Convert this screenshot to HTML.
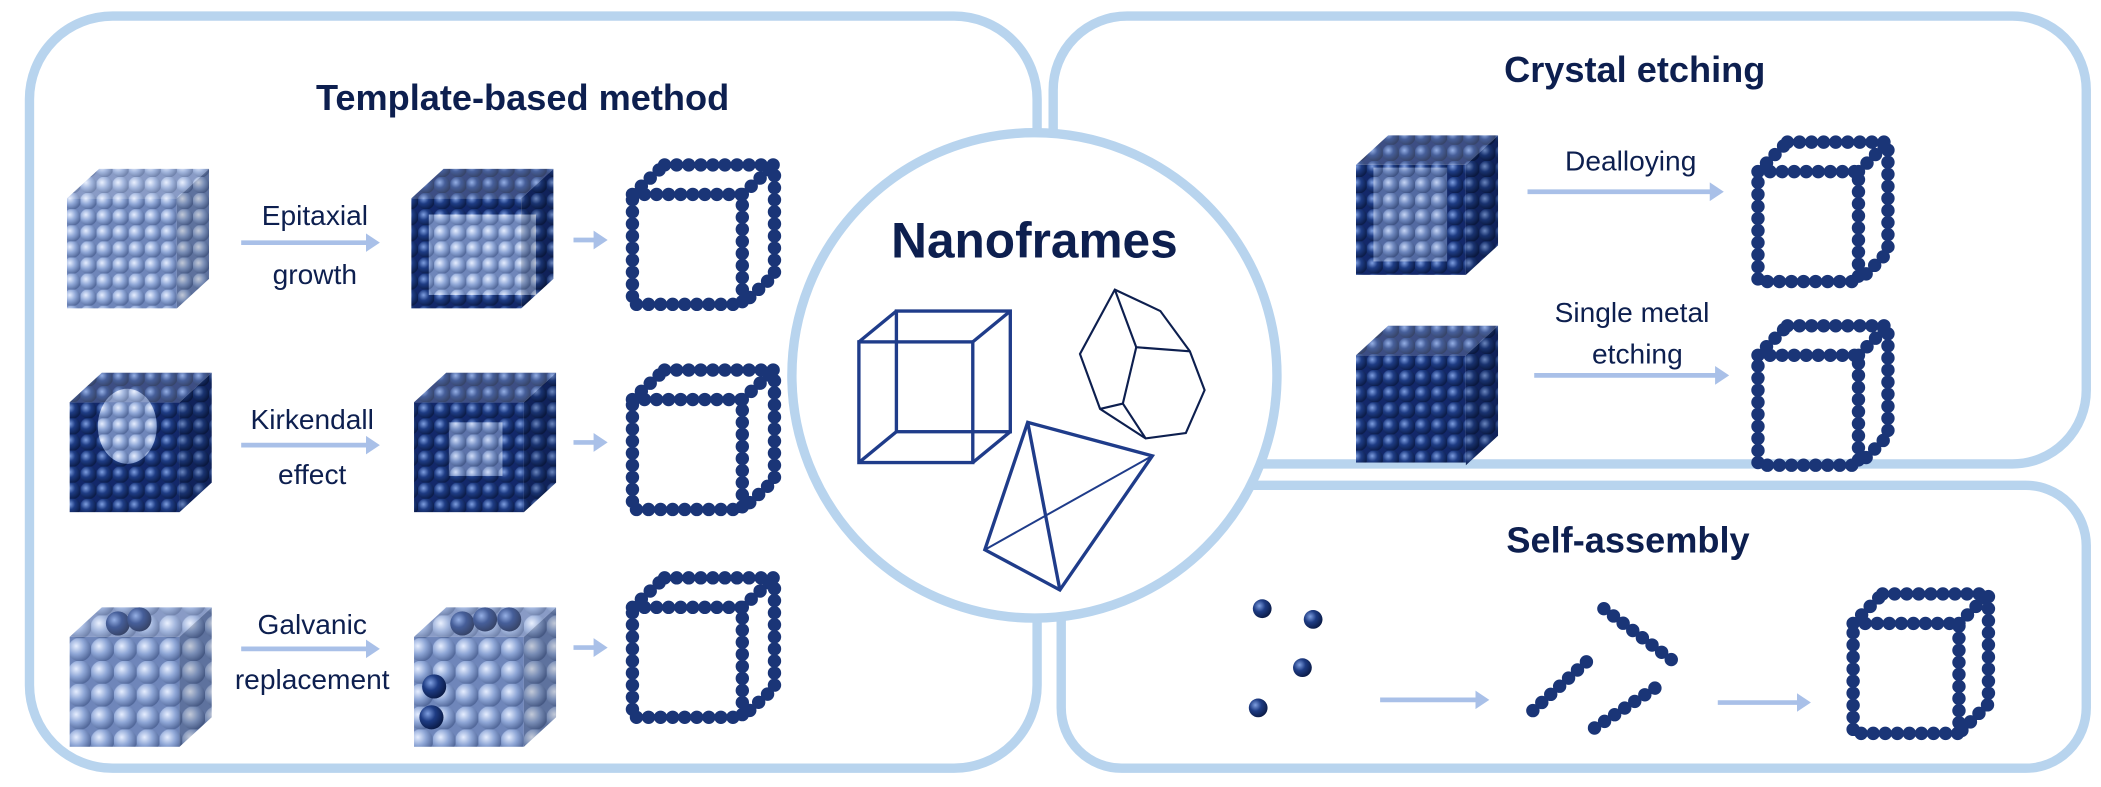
<!DOCTYPE html>
<html><head><meta charset="utf-8"><style>
html,body{margin:0;padding:0;background:#fff;width:2101px;height:787px;overflow:hidden}
svg{display:block}
text{font-family:"Liberation Sans",sans-serif;fill:#0d1f4f}
.t{font-weight:bold;font-size:27px}
.l{font-size:21px}
</style></head><body>
<svg width="2101" height="787" viewBox="0 0 1568 587" preserveAspectRatio="none">
<defs>
<radialGradient id="gl" cx="0.35" cy="0.35" r="0.7"><stop offset="0" stop-color="#e6eeff"/><stop offset="0.5" stop-color="#8ea6d6"/><stop offset="1" stop-color="#4e6496"/></radialGradient>
<radialGradient id="gd" cx="0.35" cy="0.35" r="0.7"><stop offset="0" stop-color="#7f9fe0"/><stop offset="0.45" stop-color="#1e3c84"/><stop offset="1" stop-color="#0a1a45"/></radialGradient>
<pattern id="pl" width="12" height="12" patternUnits="userSpaceOnUse"><rect width="12" height="12" fill="#6f86ba"/><circle cx="6" cy="6" r="6.3" fill="url(#gl)"/></pattern>
<pattern id="pd" width="12" height="12" patternUnits="userSpaceOnUse"><rect width="12" height="12" fill="#13286a"/><circle cx="6" cy="6" r="6.3" fill="url(#gd)"/></pattern>
<pattern id="pg" width="17" height="17" patternUnits="userSpaceOnUse"><rect width="17" height="17" fill="#6f86ba"/><circle cx="8.5" cy="8.5" r="8.8" fill="url(#gl)"/></pattern>
<marker id="ah" markerWidth="4" markerHeight="4" refX="2" refY="2" orient="auto" markerUnits="strokeWidth"><path d="M0,0 L3,2 L0,4 Z" fill="#a9c0e8"/></marker>
</defs>

<g fill="none" stroke="#b8d4ee" stroke-width="7">
<rect x="22" y="12" width="752" height="561" rx="62"/>
<rect x="786" y="12" width="771" height="334" rx="55"/>
<rect x="792" y="362" width="765" height="211" rx="45"/>
</g>
<circle cx="772" cy="280" r="181" fill="#fff" stroke="#b8d4ee" stroke-width="7"/>

<text class="t" x="390" y="82" text-anchor="middle">Template-based method</text>
<text class="t" x="1220" y="61" text-anchor="middle">Crystal etching</text>
<text class="t" x="1215" y="412" text-anchor="middle">Self-assembly</text>
<text x="772" y="192" text-anchor="middle" style="font-weight:bold;font-size:37px">Nanoframes</text>

<g text-anchor="middle">
<text class="l" x="235" y="168">Epitaxial</text><text class="l" x="235" y="212">growth</text>
<text class="l" x="233" y="320">Kirkendall</text><text class="l" x="233" y="361">effect</text>
<text class="l" x="233" y="473">Galvanic</text><text class="l" x="233" y="514">replacement</text>
<text class="l" x="1217" y="127">Dealloying</text>
<text class="l" x="1218" y="240">Single metal</text><text class="l" x="1222" y="271">etching</text>
</g>

<g stroke="#a9c0e8" stroke-width="3.5" marker-end="url(#ah)" fill="none">
<line x1="180" y1="181" x2="280" y2="181"/>
<line x1="180" y1="332" x2="280" y2="332"/>
<line x1="180" y1="484" x2="280" y2="484"/>
<line x1="428" y1="179" x2="450" y2="179"/>
<line x1="428" y1="330" x2="450" y2="330"/>
<line x1="428" y1="483" x2="450" y2="483"/>
<line x1="1140" y1="143" x2="1283" y2="143"/>
<line x1="1145" y1="280" x2="1287" y2="280"/>
<line x1="1030" y1="522" x2="1108" y2="522"/>
<line x1="1282" y1="524" x2="1348" y2="524"/>
</g>

<g stroke="none">
<polygon points="50,148 74,126 156,126 132,148" fill="url(#pl)"/>
<polygon points="132,148 156,126 156,208 132,230" fill="url(#pl)"/>
<rect x="50" y="148" width="82" height="82" fill="url(#pl)"/>
<polygon points="307,148 331,126 413,126 389,148" fill="url(#pd)"/>
<polygon points="389,148 413,126 413,208 389,230" fill="url(#pd)"/>
<rect x="307" y="148" width="82" height="82" fill="url(#pd)"/>
<rect x="320" y="160" width="80" height="60" fill="url(#pl)"/>
<polygon points="52,300 76,278 158,278 134,300" fill="url(#pd)"/>
<polygon points="134,300 158,278 158,360 134,382" fill="url(#pd)"/>
<rect x="52" y="300" width="82" height="82" fill="url(#pd)"/>
<ellipse cx="95" cy="318" rx="22" ry="28" fill="url(#pl)"/>
<polygon points="309,300 333,278 415,278 391,300" fill="url(#pd)"/>
<polygon points="391,300 415,278 415,360 391,382" fill="url(#pd)"/>
<rect x="309" y="300" width="82" height="82" fill="url(#pd)"/>
<rect x="335" y="315" width="40" height="40" fill="url(#pl)" opacity="0.8"/>
<polygon points="52,475 76,453 158,453 134,475" fill="url(#pg)"/>
<polygon points="134,475 158,453 158,535 134,557" fill="url(#pg)"/>
<rect x="52" y="475" width="82" height="82" fill="url(#pg)"/>
<circle cx="88" cy="465" r="9" fill="url(#gd)"/><circle cx="104" cy="462" r="9" fill="url(#gd)"/>
<polygon points="309,475 333,453 415,453 391,475" fill="url(#pg)"/>
<polygon points="391,475 415,453 415,535 391,557" fill="url(#pg)"/>
<rect x="309" y="475" width="82" height="82" fill="url(#pg)"/>
<circle cx="345" cy="465" r="9" fill="url(#gd)"/><circle cx="362" cy="462" r="9" fill="url(#gd)"/><circle cx="380" cy="462" r="9" fill="url(#gd)"/>
<circle cx="324" cy="512" r="9" fill="url(#gd)"/><circle cx="322" cy="535" r="9" fill="url(#gd)"/>
<polygon points="1012,123 1036,101 1118,101 1094,123" fill="url(#pd)"/>
<polygon points="1094,123 1118,101 1118,183 1094,205" fill="url(#pd)"/>
<rect x="1012" y="123" width="82" height="82" fill="url(#pd)"/>
<rect x="1025" y="125" width="55" height="70" fill="url(#pl)" opacity="0.7"/>
<polygon points="1012,265 1036,243 1118,243 1094,265" fill="url(#pd)"/>
<polygon points="1094,265 1118,243 1118,325 1094,347" fill="url(#pd)"/>
<rect x="1012" y="265" width="82" height="80" fill="url(#pd)"/>
<!-- face shading -->
<g fill="#fff" opacity="0.18">
<polygon points="50,148 74,126 156,126 132,148"/><polygon points="307,148 331,126 413,126 389,148"/>
<polygon points="52,300 76,278 158,278 134,300"/><polygon points="309,300 333,278 415,278 391,300"/>
<polygon points="52,475 76,453 158,453 134,475"/><polygon points="309,475 333,453 415,453 391,475"/>
<polygon points="1012,123 1036,101 1118,101 1094,123"/><polygon points="1012,265 1036,243 1118,243 1094,265"/>
</g>
<g fill="#000" opacity="0.15">
<polygon points="132,148 156,126 156,208 132,230"/><polygon points="389,148 413,126 413,208 389,230"/>
<polygon points="134,300 158,278 158,360 134,382"/><polygon points="391,300 415,278 415,360 391,382"/>
<polygon points="134,475 158,453 158,535 134,557"/><polygon points="391,475 415,453 415,535 391,557"/>
<polygon points="1094,123 1118,101 1118,183 1094,205"/><polygon points="1094,265 1118,243 1118,325 1094,347"/>
</g>
</g>

<g fill="none" stroke="#1a3577" stroke-width="10" stroke-linecap="round" stroke-dasharray="0 9">
<path d="M472,145 L554,145 L554,227 L472,227 Z M496,123 L578,123 L578,205 L554,227 M472,145 L496,123 M554,145 L578,123"/>
<path d="M472,298 L554,298 L554,380 L472,380 Z M496,276 L578,276 L578,358 L554,380 M472,298 L496,276 M554,298 L578,276"/>
<path d="M472,453 L554,453 L554,535 L472,535 Z M496,431 L578,431 L578,513 L554,535 M472,453 L496,431 M554,453 L578,431"/>
<path d="M1312,128 L1387,128 L1387,210 L1312,210 Z M1334,106 L1409,106 L1409,188 L1387,210 M1312,128 L1334,106 M1387,128 L1409,106"/>
<path d="M1312,265 L1387,265 L1387,347 L1312,347 Z M1334,243 L1409,243 L1409,325 L1387,347 M1312,265 L1334,243 M1387,265 L1409,243"/>
<path d="M1383,465 L1462,465 L1462,547 L1383,547 Z M1405,443 L1484,443 L1484,525 L1462,547 M1383,465 L1405,443 M1462,465 L1484,443"/>
<path d="M1144,530 L1188,490 M1190,543 L1240,510 M1197,454 L1250,494"/>
</g>
<g fill="url(#gd)">
<circle cx="942" cy="454" r="7"/><circle cx="980" cy="462" r="7"/><circle cx="972" cy="498" r="7"/><circle cx="939" cy="528" r="7"/>
</g>

<g fill="none" stroke="#1f3c8a" stroke-width="2.5">
<rect x="641" y="255" width="85" height="90"/>
<rect x="669" y="232" width="85" height="90"/>
<line x1="641" y1="255" x2="669" y2="232"/><line x1="726" y1="255" x2="754" y2="232"/>
<line x1="641" y1="345" x2="669" y2="322"/><line x1="726" y1="345" x2="754" y2="322"/>
</g>
<g fill="none" stroke="#0d1f4f" stroke-width="1.6">
<polygon points="832,216 866,232 888,262 899,291 885,323 855,327 821,305 806,264"/>
<polyline points="832,216 848,259 888,262"/>
<polyline points="848,259 838,301 821,305"/>
<line x1="838" y1="301" x2="855" y2="327"/>
</g>
<g fill="none" stroke="#1f3c8a" stroke-width="2.5">
<polygon points="767,315 860,340 791,440 735,410"/>
<line x1="767" y1="315" x2="791" y2="440"/>
<line x1="735" y1="410" x2="860" y2="340" stroke-width="1.5"/>
</g>
</svg>
</body></html>
